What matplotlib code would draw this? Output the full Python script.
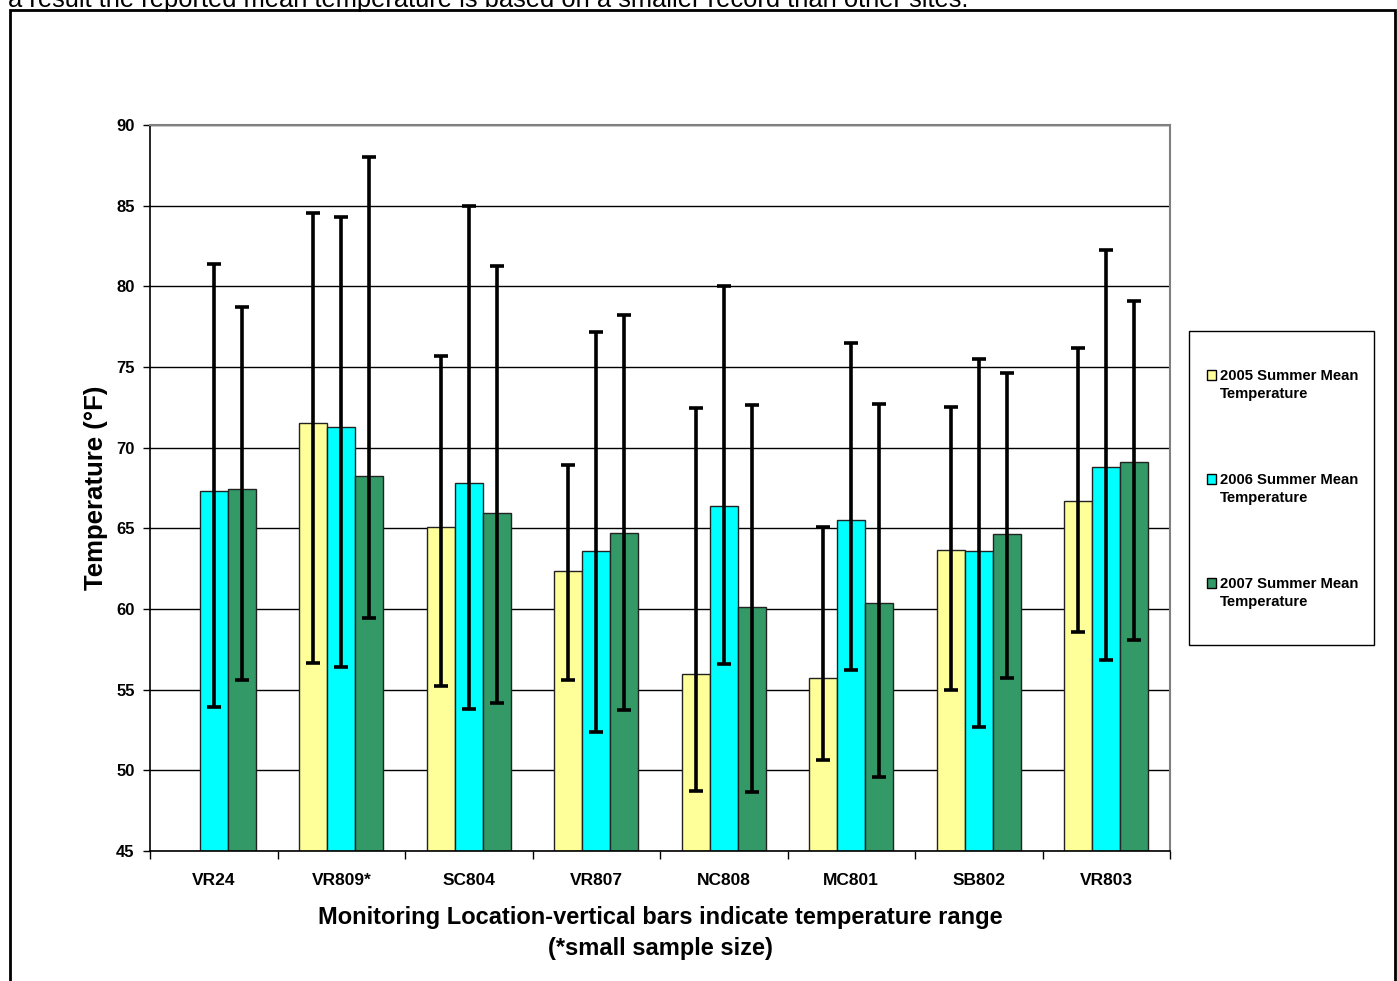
import numpy as np
import matplotlib.pyplot as plt
from matplotlib.patches import Rectangle

plt.rcParams['font.family'] = ['Liberation Sans', 'DejaVu Sans']

# --- DATA ---
sites = ["VR24", "VR809*", "SC804", "VR807", "NC808", "MC801", "SB802", "VR803"]
series_names = ["2005 Summer Mean\nTemperature",
                "2006 Summer Mean\nTemperature",
                "2007 Summer Mean\nTemperature"]

mean_2005 = [np.nan, 71.5, 65.1, 62.35, 56.0, 55.7, 63.65, 66.7]
mean_2006 = [67.3, 71.25, 67.8, 63.6, 66.4, 65.5, 63.6, 68.8]
mean_2007 = [67.45, 68.25, 65.95, 64.7, 60.1, 60.4, 64.65, 69.1]

max_2005 = [np.nan, 84.55, 75.7, 68.9, 72.45, 65.1, 72.5, 76.15]
max_2006 = [81.4, 84.3, 85.0, 77.2, 80.0, 76.5, 75.5, 82.25]
max_2007 = [78.7, 88.0, 81.25, 78.2, 72.65, 72.7, 74.65, 79.1]

min_2005 = [np.nan, 56.65, 55.2, 55.6, 48.75, 50.65, 55.0, 58.55]
min_2006 = [53.9, 56.4, 53.8, 52.4, 56.6, 56.2, 52.7, 56.85]
min_2007 = [55.6, 59.45, 54.15, 53.75, 48.65, 49.6, 55.75, 58.1]

colors = ["#FFFF99", "#00FFFF", "#339966"]

means = [mean_2005, mean_2006, mean_2007]
maxs = [max_2005, max_2006, max_2007]
mins = [min_2005, min_2006, min_2007]

W, H = 1397, 981


def fx(px):
    return px / W


def fy(py):
    return 1 - py / H


fig = plt.figure(figsize=(W / 100, H / 100), dpi=100)
ax = fig.add_axes([fx(150), fy(851), fx(1020), 726 / H])

x = np.arange(len(sites))
bar_w = 0.22
base = 45

for i, (m, hi, lo, c) in enumerate(zip(means, maxs, mins, colors)):
    m = np.array(m, dtype=float)
    hi = np.array(hi, dtype=float)
    lo = np.array(lo, dtype=float)
    xpos = x + (i - 1) * bar_w
    ax.bar(xpos, m - base, bottom=base, width=bar_w, color=c,
           edgecolor="#222222", linewidth=1.0, zorder=2)
    ax.errorbar(xpos, m, yerr=[m - lo, hi - m], fmt="none", ecolor="black",
                elinewidth=2.6, capsize=5, capthick=2.6, zorder=3)

ax.set_xlim(-0.5, len(sites) - 0.5)
ax.set_ylim(45, 90)
ax.set_yticks(np.arange(45, 91, 5))
ax.yaxis.grid(True, color="black", linewidth=1.0)
ax.set_axisbelow(True)

# category ticks at group boundaries, labels centred
ax.set_xticks(np.arange(-0.5, len(sites), 1.0))
ax.set_xticklabels([])
ax.set_xticks(x, minor=True)
ax.set_xticklabels(sites, minor=True, fontsize=12.5, fontweight="bold")
ax.tick_params(axis="x", which="major", length=6, width=1, direction="out")
ax.tick_params(axis="x", which="minor", length=0, pad=16)
ax.tick_params(axis="y", length=5, width=1, direction="out", labelsize=12, pad=6)
for lab in ax.get_yticklabels():
    lab.set_fontweight("bold")

for side in ["top", "right"]:
    ax.spines[side].set_color("#808080")
    ax.spines[side].set_linewidth(1.5)
for side in ["left", "bottom"]:
    ax.spines[side].set_color("black")
    ax.spines[side].set_linewidth(1.2)

ax.set_ylabel("Temperature (°F)", fontsize=18.5, fontweight="bold", labelpad=6)
ax.set_xlabel("Monitoring Location-vertical bars indicate temperature range\n(*small sample size)",
              fontsize=17, fontweight="bold", labelpad=13, linespacing=1.45)

# legend box, drawn by hand so each swatch sits beside the first text line
fig.patches.append(Rectangle((fx(1189), fy(645)), (1374 - 1189) / W, (645 - 331) / H,
                             transform=fig.transFigure, facecolor="white",
                             edgecolor="black", linewidth=1.0))
for i, (name, c) in enumerate(zip(series_names, colors)):
    top = 370 + i * 104
    fig.patches.append(Rectangle((fx(1207), fy(top + 10)), 9 / W, 10 / H,
                                 transform=fig.transFigure, facecolor=c,
                                 edgecolor="black", linewidth=1.0))
    fig.text(fx(1220), fy(top - 1), name, fontsize=10.7, fontweight="bold",
             va="top", ha="left", linespacing=1.35)

# outer border and the cut-off caption line above it
fig.patches.append(Rectangle((fx(10), -0.01), 1385 / W, 1 - 10 / H + 0.01,
                             transform=fig.transFigure, fill=False,
                             edgecolor="black", linewidth=2))
fig.text(fx(8), 1.0, "a result the reported mean temperature is based on a smaller record than other sites.",
         fontsize=18.4, va="center", ha="left")

fig.savefig("out.png", dpi=100)
